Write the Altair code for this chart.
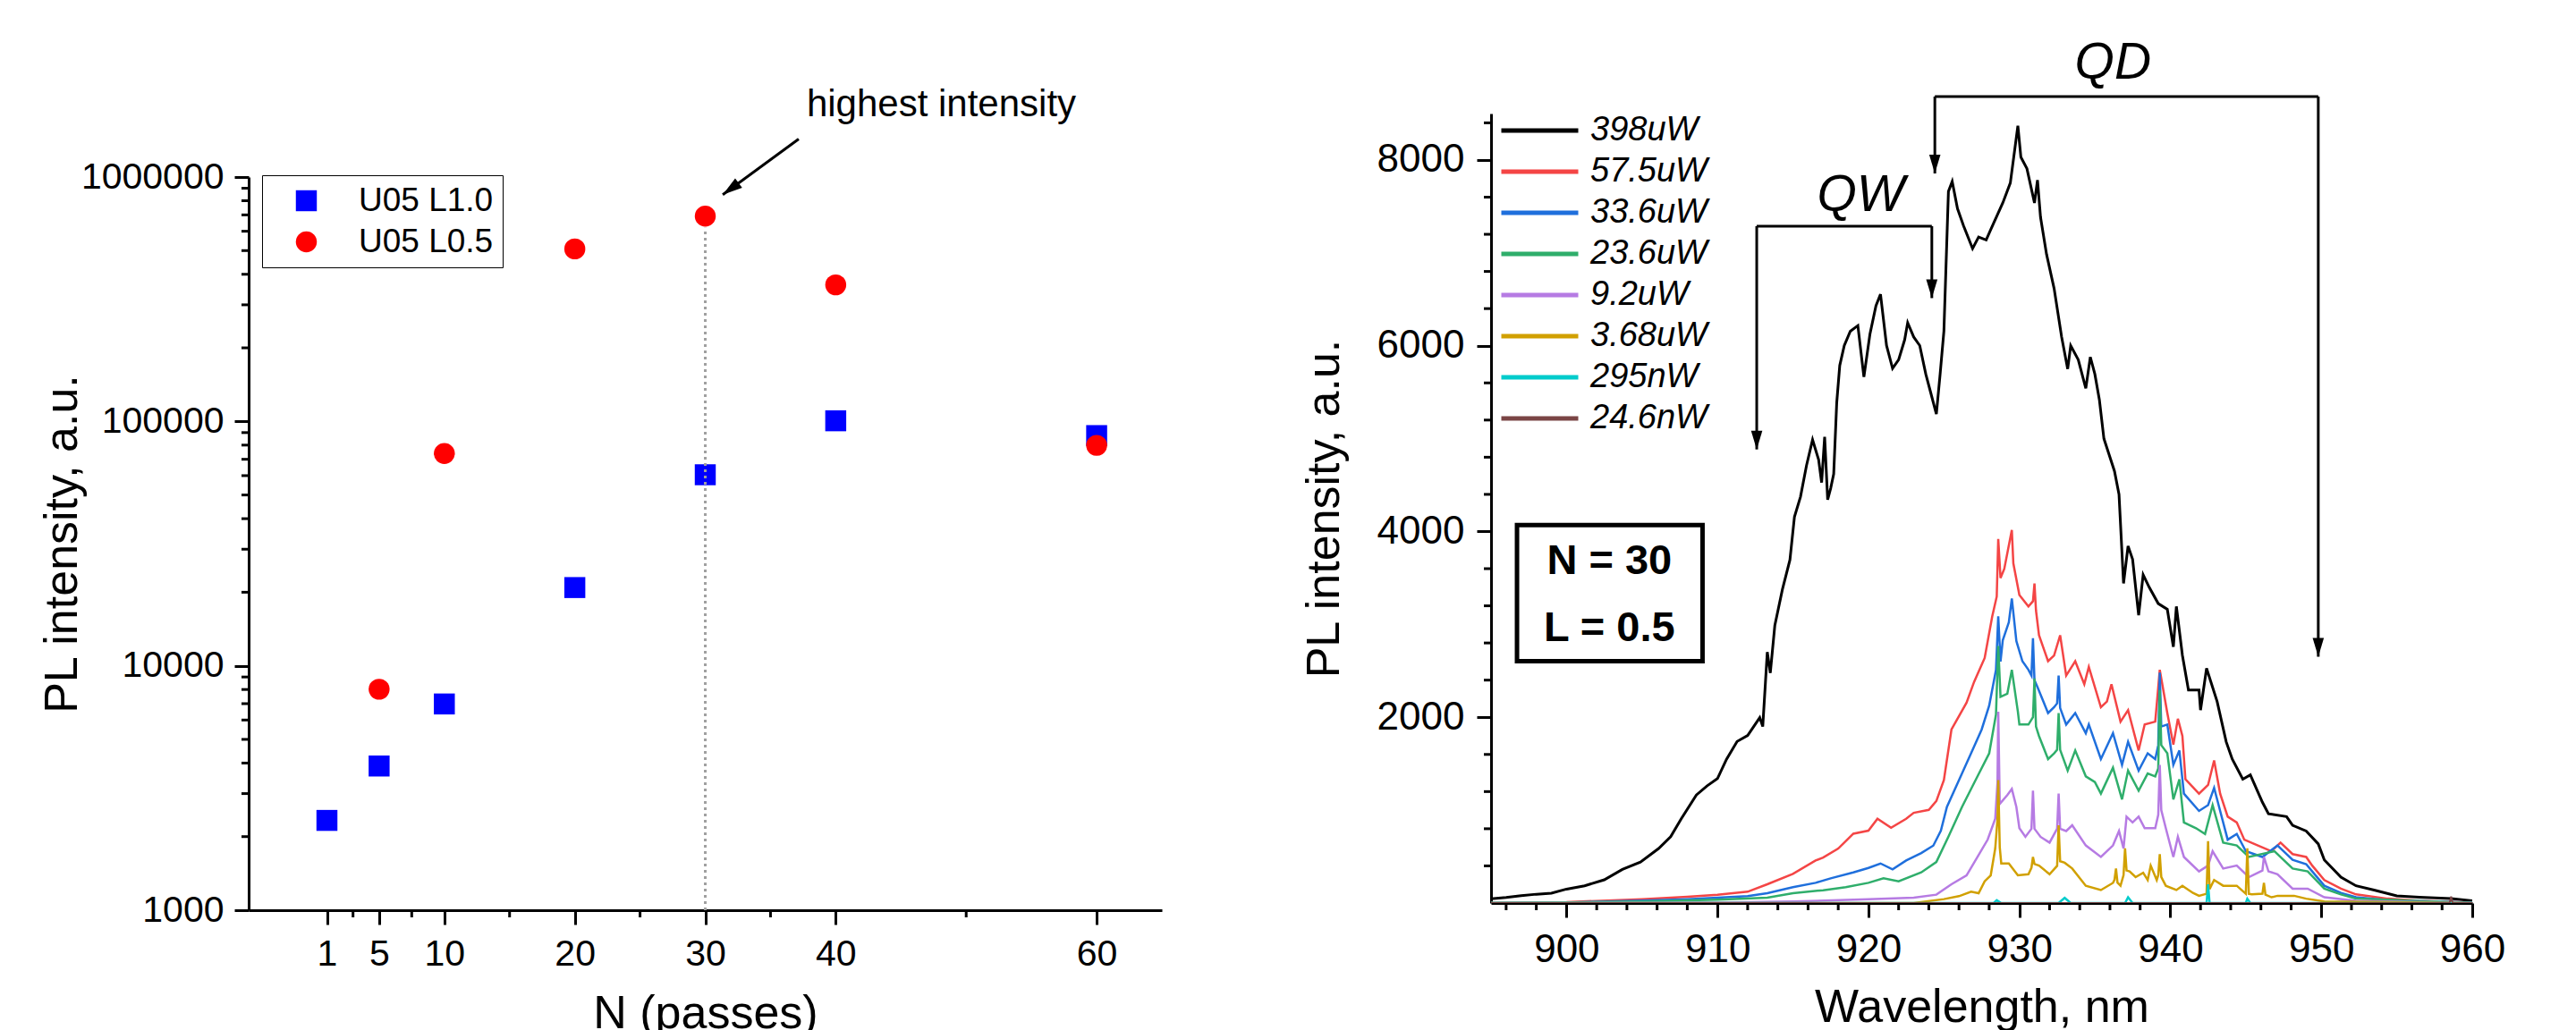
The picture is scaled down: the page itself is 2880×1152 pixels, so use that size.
import altair as alt
import pandas as pd

FONT = "Liberation Sans"

# ---------------- left panel data ----------------
SERIES_LEFT = ["U05 L1.0", "U05 L0.5"]
COLORS_LEFT = ["#0000ff", "#ff0000"]
SHAPES_LEFT = ["square", "circle"]
N_L10 = [1, 5, 10, 20, 30, 40, 60]
I_L10 = [2330, 3890, 6980, 20900, 60500, 100600, 87500]
N_L05 = [5, 10, 20, 30, 40, 60]
I_L05 = [8020, 73900, 508000, 692000, 362000, 79800]
X_TICKS_LEFT = [1, 5, 10, 20, 30, 40, 60]
X_MINOR_LEFT = [3, 7.5, 15, 25, 35, 50]
Y_TICKS_LEFT = [1000, 10000, 100000, 1000000]
Y_MINOR_LEFT = [2000, 3000, 4000, 5000, 6000, 7000, 8000, 9000,
                20000, 30000, 40000, 50000, 60000, 70000, 80000, 90000,
                200000, 300000, 400000, 500000, 600000, 700000, 800000, 900000]
# annotation (data coordinates)
HL_LINE_N = [30]
HL_LINE_I = [1000]
HL_LINE_I2 = [620000]
HL_TEXT = ["highest intensity"]
HL_TEXT_N = [48.1]
HL_TEXT_I = [1980000]
ARROW_N = [37.16]
ARROW_I = [1430000]
ARROW_N2 = [31.34]
ARROW_I2 = [847000]

# ---------------- right panel data ----------------
SERIES_R = ["398uW", "57.5uW", "33.6uW", "23.6uW", "9.2uW", "3.68uW", "295nW", "24.6nW"]
COLORS_R = ["#000000", "#f44545", "#1f6fdc", "#2fae6b", "#b67be3", "#d1a000", "#00cccc", "#7a4545"]
WIDTHS_R = [3, 2.5, 2.5, 2.5, 2.5, 2.5, 2.5, 2]

WL_398 = [895.0, 896.0, 897.0, 898.0, 899.0, 900.0, 901.2, 902.5, 903.7, 904.9, 906.1, 906.9, 907.6,
          908.6, 909.3, 910.0, 910.6, 911.3, 912.0, 912.8, 913.0, 913.3, 913.5, 913.8, 914.3, 914.8,
          915.1, 915.5, 915.9, 916.3, 916.7, 916.9, 917.1, 917.3, 917.5, 917.7, 917.9, 918.1, 918.4,
          918.8, 919.3, 919.7, 920.1, 920.5, 920.8, 921.2, 921.6, 922.0, 922.4, 922.6, 923.0, 923.4,
          923.8, 924.1, 924.5, 924.75, 925.0, 925.3, 925.55, 925.9, 926.3, 926.9, 927.3, 927.8, 928.3,
          928.9, 929.4, 929.9, 930.1, 930.5, 931.0, 931.2, 931.4, 931.8, 932.3, 932.8, 933.2, 933.4,
          933.9, 934.4, 934.7, 935.0, 935.3, 935.6, 935.8, 936.3, 936.6, 936.9, 937.2, 937.5, 937.9,
          938.2, 938.6, 939.2, 939.8, 940.2, 940.4, 940.8, 941.2, 941.9, 942.0, 942.4, 943.1, 943.7,
          944.1, 944.8, 945.3, 946.1, 946.5, 947.7, 948.1, 949.0, 949.8, 950.2, 951.3, 952.3, 953.5,
          955.0, 956.5, 958.6, 960.0]
I_398 = [45, 60, 80, 95, 106, 150, 186, 250, 362, 442, 587, 715, 907,
         1163, 1260, 1340, 1548, 1740, 1804, 1997, 1900, 2702, 2477, 2990, 3375, 3695,
         4159, 4374, 4712, 4988, 4773, 4527, 5019, 4343, 4466, 4620, 5388, 5787, 6002,
         6156, 6217, 5664, 6125, 6432, 6555, 6002, 5756, 5849, 6064, 6248, 6094, 6002,
         5695, 5511, 5265, 5695, 6156, 7661, 7769, 7477, 7292, 7047, 7170, 7139, 7323,
         7538, 7753, 8368, 8030, 7907, 7538, 7784, 7385, 6985, 6617, 6094, 5750, 6002,
         5849, 5541, 5879, 5695, 5418, 5000, 4900, 4650, 4400, 3441, 3844, 3700, 3100,
         3534, 3400, 3224, 3162, 2759, 3193, 2666, 2294, 2294, 2077, 2527, 2170, 1736,
         1550, 1333, 1380, 1085, 961, 930, 837, 775, 636, 465, 279, 186, 140,
         78, 62, 47, 25]

WL_575 = [895, 900, 905, 908, 910, 912, 913.3, 915, 916.5, 917, 918, 919, 920, 920.6, 921.5, 922.5,
          923, 924, 924.5, 925, 925.5, 926.5, 927, 927.7, 928.2, 928.5, 928.6, 928.75, 929.0, 929.5,
          929.6, 930.0, 930.6, 930.9, 931.0, 931.1, 931.3, 931.9, 932.3, 932.7, 933.1, 933.7, 934.3,
          934.6, 935.4, 935.8, 936.1, 936.7, 937.2, 937.9, 938.3, 939.0, 939.3, 939.8, 940.2, 940.5,
          940.8, 941.0, 941.9, 942.5, 942.9, 943.3, 943.8, 944.4, 944.9, 945.8, 946.7, 947.3, 948.1,
          949.0, 949.4, 950.2, 951.3, 952.3, 954.4, 956.5, 960]
I_575 = [0, 10, 42, 67, 90, 122, 202, 314, 458, 490, 587, 747, 779, 907, 811, 907,
         971, 1003, 1099, 1324, 1868, 2157, 2381, 2638, 3086, 3300, 3920, 3500, 3599, 4016,
         3658, 3317, 3193, 3250, 3441, 3150, 2883, 2604, 2666, 2883, 2449, 2604, 2356,
         2542, 2108, 2170, 2356, 1953, 2077, 1643, 1922, 1953, 2511, 2046, 1705, 1984,
         1798, 1333, 1178, 1271, 1535, 1178, 930, 868, 682, 620, 558, 651, 527,
         496, 403, 248, 155, 93, 47, 25, 6]

WL_336 = [895, 900, 905, 908, 910, 912, 913.3, 915, 916.5, 917.5, 919, 920, 920.8, 921.6, 922.5, 923.5,
          924.3, 924.8, 925.2, 926, 926.8, 927.5, 928, 928.45, 928.6, 928.75, 928.9, 929.3, 929.5, 929.8,
          930.2, 930.6, 930.8, 930.9, 931.0, 931.2, 931.9, 932.3, 932.5, 932.6, 932.7, 933.1, 933.7,
          934.4, 934.6, 935.4, 936.2, 936.8, 937.2, 937.9, 938.5, 939.0, 939.2, 939.3, 939.4, 939.8,
          940.2, 940.6, 940.9, 941.9, 942.5, 942.9, 943.3, 943.8, 944.4, 945.0, 946.1, 947.1, 948.1,
          949.0, 949.4, 950.2, 951.3, 952.3, 954.4, 960]
I_336 = [0, 5, 26, 42, 58, 74, 106, 170, 218, 266, 330, 378, 426, 362, 458, 538,
         619, 779, 1035, 1324, 1612, 1868, 2125, 2510, 3086, 2600, 2830, 3022, 3279, 2821,
         2604, 2511, 2450, 2852, 2400, 2325, 2046, 2108, 2150, 2449, 2100, 1922, 2046,
         1829, 1922, 1550, 1829, 1488, 1736, 1426, 1612, 1550, 1700, 2480, 1900, 1922,
         1488, 1643, 1178, 992, 1054, 1240, 992, 682, 744, 558, 496, 620, 465,
         419, 341, 186, 109, 62, 31, 6]

WL_236 = [895, 905, 910, 913.3, 915, 917, 918.5, 920, 921, 922, 923.5, 924.5, 925.3, 926.2, 927, 928,
          928.45, 928.6, 928.75, 929.2, 929.5, 929.9, 930.0, 930.6, 930.9, 931.0, 931.1, 931.3, 931.9,
          932.3, 932.5, 932.6, 932.7, 933.2, 933.7, 934.4, 935.0, 935.4, 936.2, 936.8, 937.2, 937.9,
          938.5, 939.0, 939.2, 939.3, 939.4, 939.8, 940.2, 940.6, 940.9, 941.7, 942.3, 942.8, 943.5,
          944.4, 945.2, 946.9, 948.1, 949.1, 950.2, 951.3, 952.3, 960]
I_236 = [0, 16, 35, 58, 106, 138, 170, 218, 266, 234, 330, 442, 715, 1035, 1292, 1612,
         2029, 2766, 2221, 2253, 2510, 2061, 1922, 1922, 2000, 2418, 1900, 1798, 1550,
         1612, 1650, 2046, 1650, 1426, 1643, 1364, 1302, 1178, 1457, 1116, 1426, 1209,
         1395, 1364, 1450, 2294, 1700, 1612, 1116, 1333, 868, 806, 744, 1054, 651,
         620, 496, 558, 372, 341, 155, 93, 47, 0]

WL_92 = [895, 910, 915, 920, 923, 924.5, 925.5, 926.5, 927.2, 927.9, 928.4, 928.55, 928.6, 928.7,
         929.2, 929.5, 929.8, 930.0, 930.4, 930.8, 930.9, 931.0, 931.4, 932.0, 932.5, 932.6, 932.7,
         933.1, 933.5, 934.4, 935.4, 936.2, 936.6, 936.9, 937.1, 937.5, 937.9, 938.3, 939.0, 939.2,
         939.3, 939.4, 939.7, 940.2, 940.5, 940.9, 941.9, 942.5, 942.8, 943.5, 944.4, 945.2, 946.1,
         946.2, 946.5, 947.1, 948.1, 949.1, 950.2, 952.3, 960]
I_92 = [0, 5, 16, 42, 58, 90, 202, 298, 490, 683, 907, 1300, 2061, 1067,
        1163, 1228, 1035, 806, 713, 800, 1209, 800, 713, 651, 800, 1178, 800,
        775, 837, 620, 496, 620, 775, 589, 930, 868, 930, 806, 806, 950,
        1488, 1000, 806, 496, 713, 496, 341, 403, 558, 372, 403, 279, 350,
        496, 341, 310, 155, 155, 62, 25, 0]

WL_368 = [895, 923, 925, 926, 926.8, 927.3, 927.7, 928.1, 928.4, 928.55, 928.6, 928.7, 928.8, 929.3,
          929.9, 930.6, 930.8, 930.9, 931.0, 931.3, 932.0, 932.5, 932.6, 932.7, 933.0, 933.5, 934.4,
          935.4, 936.2, 936.3, 936.4, 936.5, 936.7, 936.9, 937.0, 937.1, 937.3, 937.7, 938.2, 938.5,
          938.7, 939.1, 939.2, 939.3, 939.4, 939.7, 940.4, 940.8, 941.5, 941.9, 942.4, 942.5, 942.6,
          942.9, 943.5, 944.4, 945.0, 945.1, 945.2, 945.4, 946.1, 946.2, 946.3, 946.7, 947.1, 948.2,
          949.0, 950.2, 960]
I_368 = [0, 0, 42, 74, 122, 106, 234, 298, 587, 900, 1324, 600, 426, 426,
         298, 310, 380, 496, 420, 403, 310, 400, 837, 450, 434, 372, 186,
         140, 217, 250, 372, 220, 186, 300, 589, 350, 341, 279, 326, 248,
         403, 248, 300, 527, 280, 186, 140, 186, 109, 78, 100, 667, 150,
         248, 186, 186, 100, 589, 100, 93, 100, 217, 90, 62, 78, 78,
         47, 16, 0]

WL_295 = [895, 928.3, 928.5, 928.8, 932.6, 933.0, 933.4, 937.0, 937.2, 937.5, 942.4, 942.5, 942.6,
          945.0, 945.1, 945.3, 960]
I_295 = [0, 0, 30, 0, 0, 56, 0, 0, 62, 0, 0, 201, 0, 0, 47, 0, 0]

WL_246 = [895, 958.5, 958.6, 958.7, 960]
I_246 = [0, 0, 70, 0, 0]

X_TICKS_R = [900, 910, 920, 930, 940, 950, 960]
X_MINOR_R = [896, 898, 902, 904, 906, 908, 912, 914, 916, 918, 922, 924, 926, 928,
             932, 934, 936, 938, 942, 944, 946, 948, 952, 954, 956, 958]
Y_TICKS_R = [2000, 4000, 6000, 8000]
Y_MINOR_R = [400, 800, 1200, 1600, 2400, 2800, 3200, 3600, 4400, 4800, 5200, 5600,
             6400, 6800, 7200, 7600, 8400]

# annotations (data coordinates)
BRACKET_X = [912.6, 912.6, 924.2, 924.4, 924.4, 949.8]
BRACKET_Y = [4884, 7288, 7288, 7855, 8683, 8683]
BRACKET_X2 = [912.6, 924.2, 924.2, 924.4, 949.8, 949.8]
BRACKET_Y2 = [7288, 7288, 6513, 8683, 8683, 2651]
TIP_X = [912.6, 924.2, 924.4, 949.8]
TIP_Y = [4884, 6513, 7855, 2651]
LABEL_TEXT = ["QW", "QD"]
LABEL_X = [919.5, 936.2]
LABEL_Y = [7610, 9040]
BOX_X = [896.72]
BOX_X2 = [909.01]
BOX_Y = [2604]
BOX_Y2 = [4069]
BOX_TEXT = ["N = 30", "L = 0.5"]
BOX_TEXT_X = [902.84, 902.84]
BOX_TEXT_Y = [3674, 2951]

ARROW_SHAPE = "M0,0L-0.6,-2L0.6,-2Z"

# ================= left chart =================
left_rows = ([{"N": n, "I": v, "series": SERIES_LEFT[0]} for n, v in zip(N_L10, I_L10)] +
             [{"N": n, "I": v, "series": SERIES_LEFT[1]} for n, v in zip(N_L05, I_L05)])
df_left = pd.DataFrame(left_rows)

LH = 891
xl = alt.X("N:Q", scale=alt.Scale(domain=[-5, 65], nice=False, zero=False),
           axis=alt.Axis(values=X_TICKS_LEFT, format="d", title="N (passes)",
                         labelFontSize=41, titleFontSize=52, titleY=131, labelFlush=False,
                         titleBaseline="alphabetic", labelPadding=13))
yl = alt.Y("I:Q", scale=alt.Scale(type="log", domain=[1000, 1000000], range=[LH, 71], nice=False),
           axis=alt.Axis(values=Y_TICKS_LEFT, format="d", title="PL intensity, a.u.",
                         labelFontSize=41, titleFontSize=52, titleX=-193, labelFlush=False,
                         titleBaseline="alphabetic", labelPadding=12))

leg_left = alt.Legend(title=None, orient="none", legendX=15, legendY=69, strokeColor="black",
                      padding=10, rowPadding=8, labelFontSize=37, labelOffset=40,
                      symbolOffset=21, symbolSize=550, labelLimit=400)

pts = alt.Chart(df_left).mark_point(filled=True, opacity=1, size=550, strokeWidth=0).encode(
    x=xl, y=yl,
    color=alt.Color("series:N", scale=alt.Scale(domain=SERIES_LEFT, range=COLORS_LEFT), legend=leg_left),
    shape=alt.Shape("series:N", scale=alt.Scale(domain=SERIES_LEFT, range=SHAPES_LEFT), legend=leg_left),
)

minor_xl = alt.Chart(pd.DataFrame({"N": X_MINOR_LEFT})).mark_rule(color="black", strokeWidth=3).encode(
    x=xl, y=alt.value(LH), y2=alt.value(LH + 8))
minor_yl = alt.Chart(pd.DataFrame({"I": Y_MINOR_LEFT})).mark_rule(color="black", strokeWidth=3).encode(
    y=yl, x=alt.value(-8), x2=alt.value(0))

dotted = alt.Chart(pd.DataFrame({"N": HL_LINE_N, "I": HL_LINE_I, "I2": HL_LINE_I2})).mark_rule(
    color="#a0a0a0", strokeWidth=3, strokeDash=[3, 4]).encode(x=xl, y=yl, y2="I2:Q")

hl_text = alt.Chart(pd.DataFrame({"N": HL_TEXT_N, "I": HL_TEXT_I, "t": HL_TEXT})).mark_text(
    fontSize=42, font=FONT, color="black", clip=False, align="center", baseline="middle").encode(
    x=xl, y=yl, text="t:N")

arrow_line = alt.Chart(pd.DataFrame({"N": ARROW_N, "I": ARROW_I, "N2": ARROW_N2, "I2": ARROW_I2})).mark_rule(
    color="black", strokeWidth=3, clip=False).encode(x=xl, y=yl, x2="N2:Q", y2="I2:Q")
arrow_head = alt.Chart(pd.DataFrame({"N": ARROW_N2, "I": ARROW_I2})).mark_point(
    shape=ARROW_SHAPE, filled=True, color="black", opacity=1, size=484, angle=54, strokeWidth=0,
    clip=False).encode(x=xl, y=yl)

left = alt.layer(minor_xl, minor_yl, pts, dotted, arrow_line, arrow_head, hl_text).properties(
    width=1021, height=LH)

# ================= right chart =================
rows = []
for name, wl, iv in zip(SERIES_R,
                        [WL_398, WL_575, WL_336, WL_236, WL_92, WL_368, WL_295, WL_246],
                        [I_398, I_575, I_336, I_236, I_92, I_368, I_295, I_246]):
    for a, b in zip(wl, iv):
        rows.append({"wl": a, "val": b, "series": name})
df_r = pd.DataFrame(rows)

RH = 883
xr = alt.X("wl:Q", scale=alt.Scale(domain=[895, 960], nice=False, zero=False),
           axis=alt.Axis(values=X_TICKS_R, format="d", title="Wavelength, nm",
                         labelFontSize=44, titleFontSize=52, titleY=132, labelFlush=False,
                         titleBaseline="alphabetic", labelPadding=14))
yr = alt.Y("val:Q", scale=alt.Scale(domain=[0, 8500], nice=False),
           axis=alt.Axis(values=Y_TICKS_R, format="d", title="PL intensity, a.u.",
                         labelFontSize=44, titleFontSize=52, titleX=-171, labelFlush=False,
                         titleBaseline="alphabetic", labelPadding=14))
leg_r = alt.Legend(title=None, orient="none", legendX=9, legendY=-1, padding=0,
                   symbolType="stroke", symbolSize=7396, symbolStrokeWidth=5,
                   clipHeight=40, rowPadding=6, labelFontSize=38, labelFontStyle="italic",
                   labelOffset=11, labelLimit=400)
color_r = alt.Color("series:N", scale=alt.Scale(domain=SERIES_R, range=COLORS_R), legend=leg_r)

line_layers = []
for name, w in zip(SERIES_R, WIDTHS_R):
    line_layers.append(
        alt.Chart(df_r).transform_filter(alt.datum.series == name).mark_line(
            strokeWidth=w, clip=True).encode(x=xr, y=yr, color=color_r)
    )

minor_xr = alt.Chart(pd.DataFrame({"wl": X_MINOR_R})).mark_rule(color="black", strokeWidth=3).encode(
    x=xr, y=alt.value(RH), y2=alt.value(RH + 8))
minor_yr = alt.Chart(pd.DataFrame({"val": Y_MINOR_R})).mark_rule(color="black", strokeWidth=3).encode(
    y=yr, x=alt.value(-8), x2=alt.value(0))

brackets = alt.Chart(pd.DataFrame({"wl": BRACKET_X, "val": BRACKET_Y, "wl2": BRACKET_X2, "val2": BRACKET_Y2})).mark_rule(
    color="black", strokeWidth=3, clip=False).encode(x=xr, y=yr, x2="wl2:Q", y2="val2:Q")
tips = alt.Chart(pd.DataFrame({"wl": TIP_X, "val": TIP_Y})).mark_point(
    shape=ARROW_SHAPE, filled=True, color="black", opacity=1, size=441, strokeWidth=0, clip=False).encode(
    x=xr, y=yr)
labels = alt.Chart(pd.DataFrame({"wl": LABEL_X, "val": LABEL_Y, "t": LABEL_TEXT})).mark_text(
    fontSize=57, font=FONT, fontStyle="italic", color="black", clip=False, align="center",
    baseline="middle").encode(x=xr, y=yr, text="t:N")
box = alt.Chart(pd.DataFrame({"wl": BOX_X, "wl2": BOX_X2, "val": BOX_Y, "val2": BOX_Y2})).mark_rect(
    fill="white", fillOpacity=0, stroke="black", strokeWidth=5).encode(x=xr, x2="wl2:Q", y=yr, y2="val2:Q")
box_text = alt.Chart(pd.DataFrame({"wl": BOX_TEXT_X, "val": BOX_TEXT_Y, "t": BOX_TEXT})).mark_text(
    fontSize=47, font=FONT, fontWeight="bold", color="black", align="center", baseline="middle").encode(
    x=xr, y=yr, text="t:N")

right = alt.layer(minor_xr, minor_yr, *line_layers, brackets, tips, labels, box, box_text).properties(
    width=1097, height=RH)

chart = alt.hconcat(left, right, spacing=368, bounds="flush").resolve_scale(
    x="independent", y="independent", color="independent", shape="independent"
).resolve_legend(color="independent", shape="independent").properties(
    padding={"left": 35, "top": 33, "right": 10, "bottom": 0}
).configure_view(stroke=None).configure_axis(
    domainColor="black", domainWidth=3, tickColor="black", tickWidth=3, tickSize=16,
    labelColor="black", titleColor="black", labelFont=FONT, titleFont=FONT,
    titleFontWeight="normal", grid=False
).configure_legend(labelFont=FONT, labelColor="black").configure_text(font=FONT)

chart.save("out.html", embed_options={"renderer": "svg", "actions": False})
